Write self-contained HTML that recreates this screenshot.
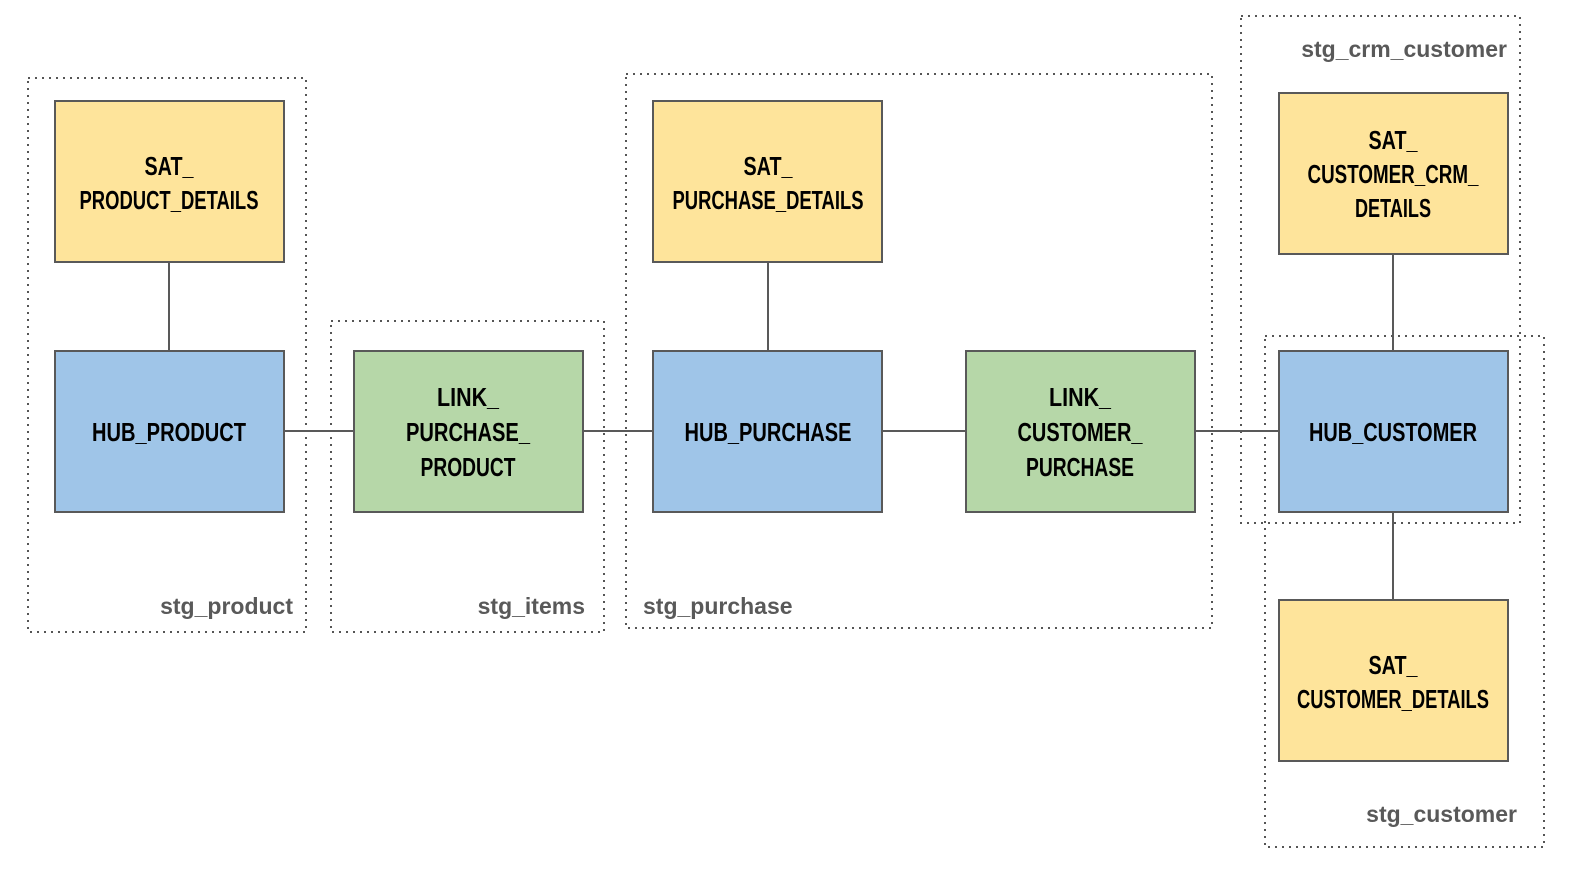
<!DOCTYPE html>
<html><head><meta charset="utf-8"><style>
html,body{margin:0;padding:0;background:#fff}
svg{display:block}
.b{stroke:#595959;stroke-width:2}
.t{font-family:"Liberation Sans",sans-serif;font-weight:bold;font-size:26px;fill:#000;text-anchor:middle}
.g{fill:none;stroke:#555;stroke-width:2;stroke-dasharray:2 5}
.l{font-family:"Liberation Sans",sans-serif;font-weight:bold;font-size:23px;fill:#595959}
.c{stroke:#595959;stroke-width:2}
</style></head><body>
<svg width="1592" height="876" viewBox="0 0 1592 876">
<rect class="g" x="28" y="78" width="278" height="554"/>
<rect class="g" x="331" y="321" width="273" height="311"/>
<rect class="g" x="626" y="74" width="586" height="554"/>
<rect class="g" x="1241" y="16" width="279" height="507"/>
<rect class="g" x="1265" y="336" width="279" height="511"/>
<text class="l" x="293" y="614" text-anchor="end">stg_product</text>
<text class="l" x="585" y="614" text-anchor="end">stg_items</text>
<text class="l" x="643" y="614">stg_purchase</text>
<text class="l" x="1507" y="57" text-anchor="end">stg_crm_customer</text>
<text class="l" x="1517" y="822" text-anchor="end">stg_customer</text>
<line class="c" x1="169" y1="262" x2="169" y2="351"/>
<line class="c" x1="768" y1="262" x2="768" y2="351"/>
<line class="c" x1="1393" y1="254" x2="1393" y2="351"/>
<line class="c" x1="1393" y1="512" x2="1393" y2="600"/>
<line class="c" x1="284" y1="431" x2="354" y2="431"/>
<line class="c" x1="583" y1="431" x2="653" y2="431"/>
<line class="c" x1="882" y1="431" x2="966" y2="431"/>
<line class="c" x1="1195" y1="431" x2="1279" y2="431"/>
<g class="b">
<rect x="55" y="101" width="229" height="161" fill="#fee49b"/>
<rect x="55" y="351" width="229" height="161" fill="#9fc5e8"/>
<rect x="354" y="351" width="229" height="161" fill="#b6d7a8"/>
<rect x="653" y="351" width="229" height="161" fill="#9fc5e8"/>
<rect x="653" y="101" width="229" height="161" fill="#fee49b"/>
<rect x="966" y="351" width="229" height="161" fill="#b6d7a8"/>
<rect x="1279" y="351" width="229" height="161" fill="#9fc5e8"/>
<rect x="1279" y="93" width="229" height="161" fill="#fee49b"/>
<rect x="1279" y="600" width="229" height="161" fill="#fee49b"/>
</g>
<g class="t">
<text x="169" y="175" textLength="49" lengthAdjust="spacingAndGlyphs">SAT_</text>
<text x="169" y="209" textLength="179" lengthAdjust="spacingAndGlyphs">PRODUCT_DETAILS</text>
<text x="169" y="441" textLength="154" lengthAdjust="spacingAndGlyphs">HUB_PRODUCT</text>
<text x="468" y="406" textLength="62" lengthAdjust="spacingAndGlyphs">LINK_</text>
<text x="468" y="441" textLength="124" lengthAdjust="spacingAndGlyphs">PURCHASE_</text>
<text x="468" y="476" textLength="95" lengthAdjust="spacingAndGlyphs">PRODUCT</text>
<text x="768" y="175" textLength="49" lengthAdjust="spacingAndGlyphs">SAT_</text>
<text x="768" y="209" textLength="191" lengthAdjust="spacingAndGlyphs">PURCHASE_DETAILS</text>
<text x="768" y="441" textLength="167" lengthAdjust="spacingAndGlyphs">HUB_PURCHASE</text>
<text x="1080" y="406" textLength="62" lengthAdjust="spacingAndGlyphs">LINK_</text>
<text x="1080" y="441" textLength="125" lengthAdjust="spacingAndGlyphs">CUSTOMER_</text>
<text x="1080" y="476" textLength="108" lengthAdjust="spacingAndGlyphs">PURCHASE</text>
<text x="1393" y="441" textLength="168" lengthAdjust="spacingAndGlyphs">HUB_CUSTOMER</text>
<text x="1393" y="149" textLength="49" lengthAdjust="spacingAndGlyphs">SAT_</text>
<text x="1393" y="183" textLength="171" lengthAdjust="spacingAndGlyphs">CUSTOMER_CRM_</text>
<text x="1393" y="217" textLength="76" lengthAdjust="spacingAndGlyphs">DETAILS</text>
<text x="1393" y="674" textLength="49" lengthAdjust="spacingAndGlyphs">SAT_</text>
<text x="1393" y="708" textLength="192" lengthAdjust="spacingAndGlyphs">CUSTOMER_DETAILS</text>
</g>
</svg>
</body></html>
